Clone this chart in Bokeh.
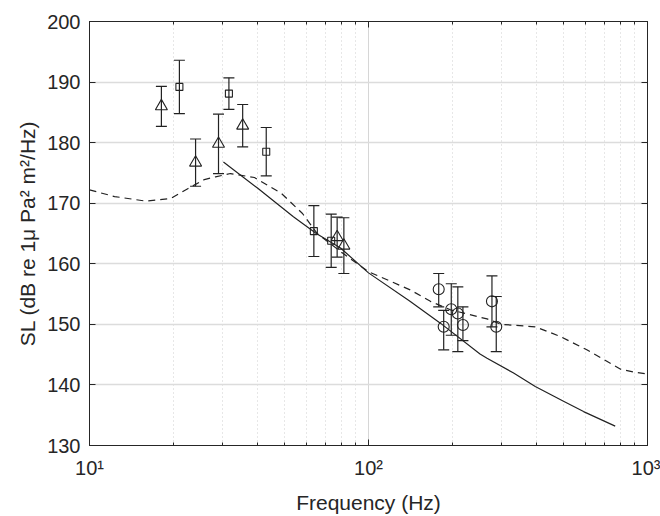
from bokeh.plotting import figure
from bokeh.models import (ColumnDataSource, Whisker, TeeHead, FixedTicker,
                          CustomJSTickFormatter, LogAxis, LinearAxis)
from bokeh.embed import file_html
from bokeh.resources import INLINE

# ---- data ----
model_f = [30.2, 40.0, 53.8, 65.0, 79.4, 100, 140, 181, 251, 266, 330, 396, 500, 590, 766]
model_sl = [176.8, 172.5, 167.75, 165.0, 162.6, 158.5, 153.9, 150.2, 145.1, 144.4, 142.0, 139.75, 137.3, 135.6, 133.2]

dash_f = [10, 12.3, 15.9, 19.6, 22.5, 25.8, 28.3, 32, 39, 48.8, 58, 65.5, 80, 100, 141, 166.7,
          196.6, 266, 300, 396, 487, 606, 715, 801, 900, 1000]
dash_sl = [172.2, 171.1, 170.35, 170.8, 172.4, 173.9, 174.35, 174.9, 174.25, 171.6, 168.3, 165.0,
           161.9, 158.7, 155.7, 153.8, 152.4, 150.9, 150.0, 149.6, 148.0, 145.8, 143.9, 142.6, 142.1, 141.8]

sq_f = [21.0, 31.6, 43.0, 63.7, 73.5]
sq_sl = [189.2, 188.1, 178.5, 165.4, 163.8]
sq_lo = [184.8, 185.5, 174.5, 161.2, 159.4]
sq_hi = [193.6, 190.7, 182.5, 169.6, 168.2]

tri_f = [18.1, 24.0, 29.0, 35.4, 77.2, 81.6]
tri_sl = [186.0, 176.7, 179.8, 182.8, 164.4, 163.0]
tri_lo = [182.7, 172.8, 174.9, 179.3, 161.1, 158.4]
tri_hi = [189.3, 180.6, 184.7, 186.3, 167.7, 167.6]

cir_f = [178.5, 186, 198, 209, 218, 277, 287]
cir_sl = [155.8, 149.6, 152.5, 151.8, 149.9, 153.8, 149.6]
cir_lo = [152.9, 145.8, 148.2, 145.5, 147.3, 149.6, 145.5]
cir_hi = [158.4, 152.3, 156.7, 156.2, 152.9, 158.0, 154.6]

x_major = [10, 100, 1000]
x_minor = [20, 30, 40, 50, 60, 70, 80, 90, 200, 300, 400, 500, 600, 700, 800, 900]
y_ticks = [130, 140, 150, 160, 170, 180, 190, 200]

FONT = "Liberation Sans"
INK = "#222222"
AX = "#262626"

p = figure(width=660, height=516, x_axis_type="log", x_range=(10, 1000), y_range=(130, 200),
           output_backend="svg", toolbar_location=None,
           min_border_left=89, min_border_right=13, min_border_top=21, min_border_bottom=70)
p.outline_line_color = AX
p.outline_line_width = 1
p.background_fill_color = "white"
p.border_fill_color = "white"

# grids
p.xgrid.ticker = FixedTicker(ticks=x_major, minor_ticks=x_minor)
p.xgrid.grid_line_color = "#d6d6d6"
p.xgrid.minor_grid_line_color = "#cfcfcf"
p.xgrid.minor_grid_line_dash = "1 3"
p.ygrid.ticker = FixedTicker(ticks=y_ticks)
p.ygrid.grid_line_color = "#dcdcdc"
p.ygrid.grid_line_width = 1.5

fmt = CustomJSTickFormatter(code="""
const s = {1: '\\u00b9', 2: '\\u00b2', 3: '\\u00b3'};
const e = Math.round(Math.log10(tick));
return '10' + (s[e] || e);
""")
blank = CustomJSTickFormatter(code="return ' ';")

def style_axis(ax):
    ax.axis_line_color = AX
    ax.major_tick_line_color = AX
    ax.minor_tick_line_color = AX
    ax.major_tick_in = 6
    ax.major_tick_out = 0
    ax.minor_tick_in = 3
    ax.minor_tick_out = 0
    ax.major_label_text_font = FONT
    ax.major_label_text_font_size = "20px"
    ax.major_label_text_color = "#262626"
    ax.axis_label_text_font = FONT
    ax.axis_label_text_font_size = "21px"
    ax.axis_label_text_font_style = "normal"
    ax.axis_label_text_color = "#262626"

xa = p.xaxis[0]
xa.ticker = FixedTicker(ticks=x_major, minor_ticks=x_minor)
xa.formatter = fmt
xa.axis_label = "Frequency (Hz)"
style_axis(xa)
xa.major_label_standoff = 11
xa.axis_label_standoff = 9

ya = p.yaxis[0]
ya.ticker = FixedTicker(ticks=y_ticks)
ya.axis_label = "SL (dB re 1\u03bc Pa\u00b2 m\u00b2/Hz)"
style_axis(ya)
ya.minor_tick_in = 0
ya.major_label_standoff = 9

top = LogAxis(ticker=FixedTicker(ticks=x_major, minor_ticks=x_minor), formatter=blank)
style_axis(top)
top.major_label_text_font_size = "1px"
top.major_label_standoff = 0
p.add_layout(top, "above")
right = LinearAxis(ticker=FixedTicker(ticks=y_ticks), formatter=blank)
style_axis(right)
right.minor_tick_in = 0
right.major_label_text_font_size = "1px"
right.major_label_standoff = 0
p.add_layout(right, "right")

# curves
p.line(dash_f, dash_sl, line_color=INK, line_width=1.2, line_dash="7 5")
p.line(model_f, model_sl, line_color=INK, line_width=1.2)

def series(f, v, lo, hi, marker, size):
    src = ColumnDataSource(dict(f=f, v=v, lo=lo, hi=hi))
    w = Whisker(source=src, base="f", lower="lo", upper="hi", dimension="height",
                line_color=INK, line_width=1.2,
                upper_head=TeeHead(size=11, line_color=INK, line_width=1.2),
                lower_head=TeeHead(size=11, line_color=INK, line_width=1.2))
    p.add_layout(w)
    p.scatter("f", "v", source=src, marker=marker, size=size, fill_color=None,
              line_color=INK, line_width=1.1)

series(sq_f, sq_sl, sq_lo, sq_hi, "square", 7)
series(tri_f, tri_sl, tri_lo, tri_hi, "triangle", 12)
series(cir_f, cir_sl, cir_lo, cir_hi, "circle", 11)

open("out.html", "w").write(file_html(p, INLINE))
